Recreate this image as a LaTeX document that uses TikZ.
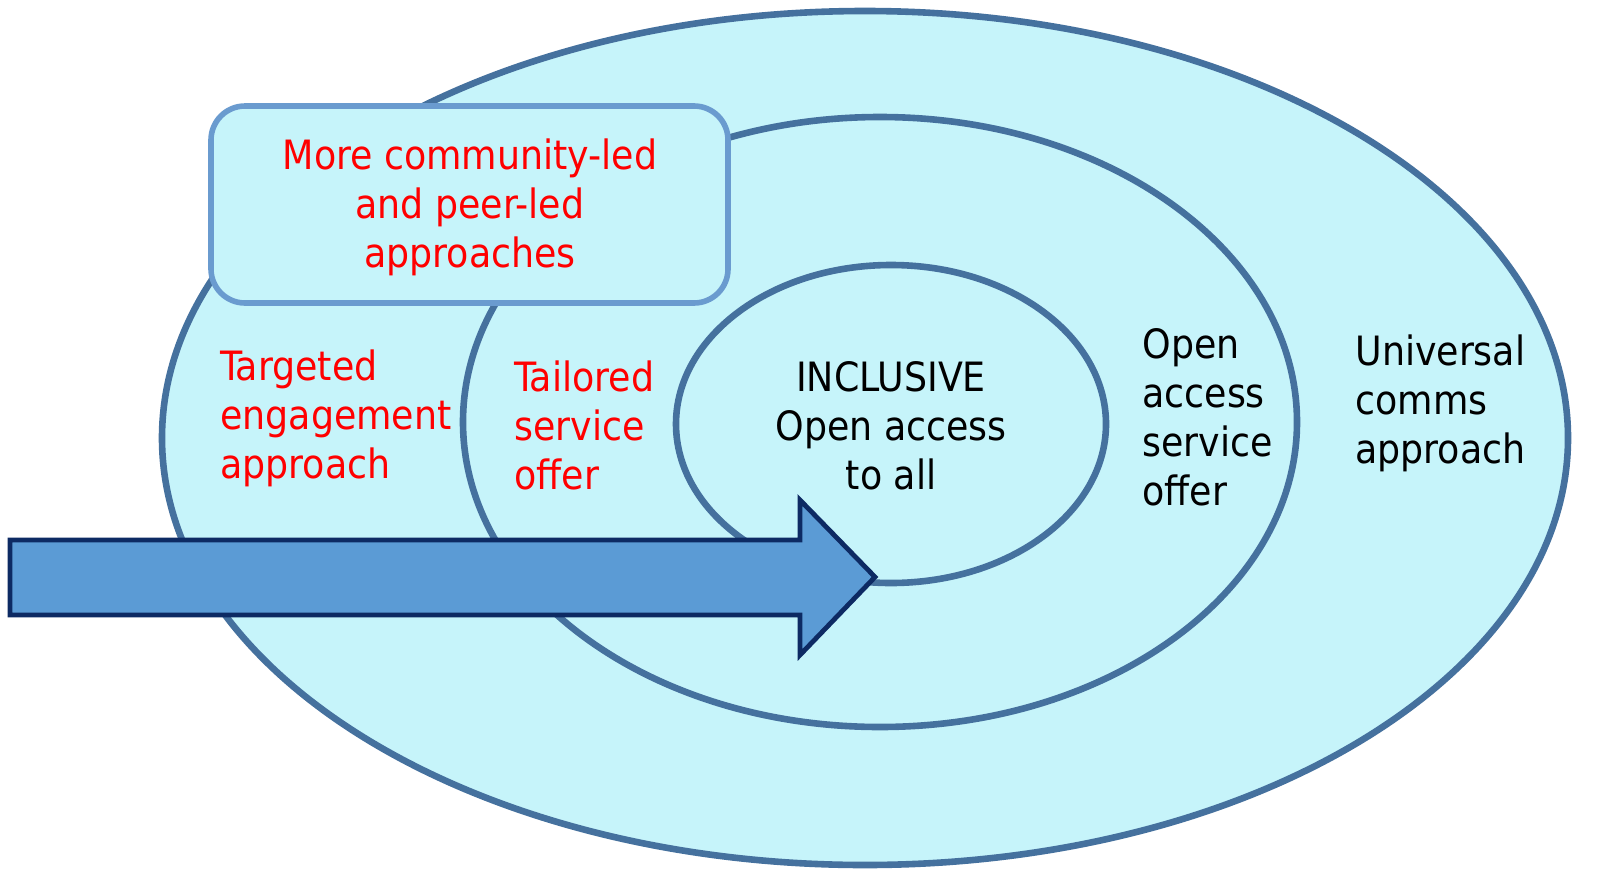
\documentclass[tikz,border=0pt]{standalone}
\usepackage{fontspec}
\setmainfont{DejaVu Sans Condensed}
\definecolor{ringfill}{HTML}{C6F4FA}
\definecolor{ringline}{HTML}{45719E}
\definecolor{boxline}{HTML}{6A9BCF}
\definecolor{arrowfill}{HTML}{5B9BD5}
\definecolor{arrowline}{HTML}{0D2A63}
\begin{document}
\begin{tikzpicture}[x=0.5pt,y=-0.5pt,
  ring/.style={draw=ringline,fill=ringfill,line width=3.3pt},
  lbl/.style={inner sep=0pt,font=\fontsize{20.2}{24.5}\selectfont},
  redlbl/.style={lbl,text=red},
  blklbl/.style={lbl,text=black}]
\useasboundingbox (0,0) rectangle (1606,889);
% rings
\draw[ring] (865,438) ellipse [x radius=703, y radius=427];
\draw[ring] (880,422) ellipse [x radius=417, y radius=305];
\draw[ring] (891,424) ellipse [x radius=215, y radius=159];
% box
\draw[draw=boxline,fill=ringfill,line width=2.8pt,rounded corners=17pt]
  (211,106) rectangle (728,303);
\node[redlbl,align=center] (box) at (470,207) {More community-led\\and peer-led\\approaches};
% arrow
\draw[draw=arrowline,fill=arrowfill,line width=2.4pt,line join=miter]
  (10,540) -- (800,540) -- (800,500) -- (875,577) -- (800,655) -- (800,615) -- (10,615) -- cycle;
% labels
\node[redlbl,align=left,anchor=west] (targ) at (220,418) {Targeted\\engagement\\approach};
\node[redlbl,align=left,anchor=west] (tail) at (514,425) {Tailored\\service\\offer};
\node[blklbl,align=center] (incl) at (891,426) {INCLUSIVE\\Open access\\to all};
\node[blklbl,align=left,anchor=west] (open) at (1142,417) {Open\\access\\service\\offer};
\node[blklbl,align=left,anchor=west] (univ) at (1355,403) {Universal\\comms\\approach};
\end{tikzpicture}
\end{document}
